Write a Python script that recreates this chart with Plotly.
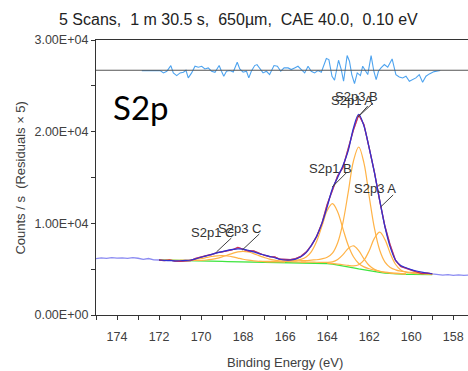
import plotly.graph_objects as go

# ---------------- data ----------------
be_grid = [172.0, 171.75, 171.5, 171.25, 171.0, 170.75, 170.5, 170.25, 170.0, 169.75,
           169.5, 169.25, 169.0, 168.75, 168.5, 168.25, 168.0, 167.75, 167.5, 167.25,
           167.0, 166.75, 166.5, 166.25, 166.0, 165.75, 165.5, 165.25, 165.0, 164.75,
           164.5, 164.25, 164.0, 163.75, 163.5, 163.25, 163.0, 162.75, 162.5, 162.25,
           162.0, 161.75, 161.5, 161.25, 161.0, 160.75, 160.5, 160.25, 160.0, 159.75,
           159.5, 159.25, 159.0]

background_k = [6.00, 5.98, 5.96, 5.94, 5.92, 5.91, 5.90, 5.89, 5.88, 5.87,
                5.86, 5.85, 5.84, 5.83, 5.82, 5.81, 5.80, 5.79, 5.79, 5.78,
                5.78, 5.77, 5.77, 5.76, 5.76, 5.75, 5.75, 5.74, 5.73, 5.72,
                5.70, 5.67, 5.62, 5.55, 5.47, 5.38, 5.27, 5.15, 5.03, 4.92,
                4.82, 4.73, 4.64, 4.57, 4.52, 4.48, 4.46, 4.44, 4.43, 4.42,
                4.41, 4.40, 4.40]

envelope_k = [6.00, 5.95, 5.93, 5.91, 5.92, 5.95, 6.00, 6.12, 6.30, 6.45,
              6.62, 6.78, 6.92, 7.05, 7.15, 7.22, 7.18, 7.05, 6.88, 6.70,
              6.55, 6.40, 6.25, 6.08, 6.00, 6.00, 6.10, 6.35, 6.80, 7.60,
              8.60, 10.0, 11.8, 13.8, 15.0, 16.3, 17.9, 20.4, 21.9, 20.6,
              18.2, 15.5, 12.5, 9.6, 7.4, 6.0, 5.4, 5.15, 4.95, 4.80,
              4.68, 4.58, 4.50]

raw_be = [175.0, 174.75, 174.5, 174.25, 174.0, 173.75, 173.5, 173.25, 173.0, 172.75,
          172.5, 172.25, 172.0, 171.75, 171.5, 171.25, 171.0, 170.75, 170.5, 170.25,
          170.0, 169.75, 169.5, 169.25, 169.0, 168.75, 168.5, 168.25, 168.0, 167.75,
          167.5, 167.25, 167.0, 166.75, 166.5, 166.25, 166.0, 165.75, 165.5, 165.25,
          165.0, 164.75, 164.5, 164.25, 164.0, 163.75, 163.5, 163.25, 163.0, 162.75,
          162.5, 162.25, 162.0, 161.75, 161.5, 161.25, 161.0, 160.75, 160.5, 160.25,
          160.0, 159.75, 159.5, 159.25, 159.0, 158.75, 158.5, 158.25, 158.0, 157.75,
          157.5, 157.25]
raw_counts = [6150, 6230, 6180, 6260, 6200, 6240, 6170, 6250, 6190, 6060,
              6160, 6010, 6000, 5930, 6020, 5870, 5850, 5900, 5930, 6170,
              6350, 6490, 6600, 6800, 6880, 7020, 7120, 7380, 7160, 6980,
              6980, 6730, 6520, 6370, 6330, 6080, 6040, 6030, 6150, 6400,
              6870, 7600, 8580, 10000, 12050, 13650, 15200, 16100, 18150, 20200,
              21850, 20750, 18200, 15550, 12450, 9650, 7600, 5950, 5300, 5080,
              4850, 4700, 4520, 4560, 4480, 4420, 4350, 4400, 4330, 4380,
              4320, 4360]

# components: start BE on the grid + net height (k counts/s) above background
s2p3_b_start = 166.0
s2p3_b_k = [0.12, 0.14, 0.16, 0.19, 0.21, 0.27, 0.33, 0.45, 0.67, 1.2, 2.42, 4.71, 8.1,
            11.65, 13.3, 11.65, 8.1, 4.71, 2.42, 1.2, 0.67, 0.45, 0.33, 0.27, 0.21,
            0.19, 0.16, 0.14, 0.12]
s2p1_b_start = 167.25
s2p1_b_k = [0.06, 0.07, 0.08, 0.09, 0.11, 0.13, 0.17, 0.22, 0.33, 0.59, 1.2, 2.34, 4.02,
            5.78, 6.6, 5.78, 4.02, 2.34, 1.2, 0.59, 0.33, 0.22, 0.17, 0.13, 0.11, 0.09,
            0.08, 0.07, 0.06]
s2p3_a_start = 164.0
s2p3_a_k = [0.05, 0.06, 0.08, 0.10, 0.14, 0.22, 0.46, 1.06, 2.2, 3.65, 4.4, 3.65, 2.2,
            1.06, 0.46, 0.22, 0.14, 0.10, 0.08, 0.06, 0.05]
s2p1_a_start = 165.25
s2p1_a_k = [0.03, 0.034, 0.043, 0.055, 0.07, 0.12, 0.25, 0.58, 1.2, 1.99, 2.4, 1.99,
            1.2, 0.58, 0.25, 0.12, 0.07, 0.055, 0.043, 0.034, 0.03]
s2p3_c_start = 171.0
s2p3_c_k = [0.029, 0.035, 0.044, 0.06, 0.084, 0.13, 0.21, 0.33, 0.50, 0.70, 0.91, 1.08,
            1.15, 1.08, 0.91, 0.70, 0.50, 0.33, 0.21, 0.13, 0.084, 0.06, 0.044, 0.035,
            0.029]
s2p1_c_start = 172.0
s2p1_c_k = [0.016, 0.02, 0.025, 0.034, 0.047, 0.074, 0.12, 0.19, 0.28, 0.40, 0.52, 0.61,
            0.65, 0.61, 0.52, 0.40, 0.28, 0.19, 0.12, 0.074, 0.047, 0.034, 0.025, 0.02,
            0.016]

resid_be = [172.82, 171.95, 171.79, 171.63, 171.44, 171.32, 171.16, 171.00, 170.84, 170.72,
            170.61, 170.45, 170.29, 170.13, 169.97, 169.82, 169.66, 169.50, 169.34, 169.14,
            169.03, 168.92, 168.79, 168.63, 168.47, 168.28, 168.16, 168.00, 167.84, 167.73,
            167.61, 167.45, 167.34, 167.21, 167.05, 166.89, 166.74, 166.53, 166.37, 166.21,
            166.05, 165.86, 165.71, 165.55, 165.39, 165.23, 165.07, 164.91, 164.76, 164.60,
            164.44, 164.28, 164.04, 163.92, 163.77, 163.65, 163.46, 163.33, 163.22, 163.05,
            162.94, 162.83, 162.70, 162.57, 162.42, 162.31, 162.18, 162.07, 161.91, 161.78,
            161.67, 161.56, 161.44, 161.28, 161.12, 160.91, 160.73, 160.57, 160.41, 160.25,
            160.09, 159.94, 159.78, 159.62, 159.46, 159.30, 159.14, 158.91, 158.62]
resid_x5 = [-36, -36, -291, -109, 510, -291, -582, -291, -218, 0,
            -837, -291, 437, 328, 437, 146, 255, -109, -218, 510,
            -109, -655, -109, -36, -182, 874, 146, -218, -109, -837,
            -109, 510, 619, 255, -291, -109, -473, 510, 437, -109,
            255, 255, 73, 255, 437, 73, -291, 437, -109, -291,
            -36, -218, 1274, 1165, -655, -1092, 1092, 73, -1201, 1602,
            983, -473, -1456, -291, -582, 437, 0, -473, 1602, -109,
            -1019, -109, 255, 619, 328, 1238, -473, -728, -837, -655,
            -1201, -1019, -837, -473, -1310, -655, -400, -146, -36]
resid_offset = 26700

# peak labels: text, text position (BE, counts), leader line start and end
label_text = ["S2p1 A", "S2p3 B", "S2p1 B", "S2p3 A", "S2p1 C", "S2p3 C"]
label_be = [162.83, 162.59, 163.82, 161.72, 169.46, 168.18]
label_cts = [23350, 23800, 16000, 13750, 8950, 9400]
line_be0 = [162.07, 161.83, 163.05, 160.86, 168.56, 167.23]
line_cts0 = [22800, 23100, 15600, 13100, 8400, 8840]
line_be1 = [162.54, 162.54, 163.76, 161.45, 169.27, 168.04]
line_cts1 = [21600, 21600, 13960, 11800, 6870, 7090]

y_tickvals = [0, 10000, 20000, 30000]
y_ticktext = ["0.00E+00", "1.00E+04", "2.00E+04", "3.00E+04"]
x_tickvals = [174, 172, 170, 168, 166, 164, 162, 160, 158]

title_text = "5 Scans,  1 m 30.5 s,  650µm,  CAE 40.0,  0.10 eV"
region_text = "S2p"
x_title = "Binding Energy (eV)"
y_title = "Counts / s  (Residuals × 5)"

# ---------------- figure ----------------
REG = "Liberation Sans, Arial, sans-serif"

bg_counts = [v * 1000 for v in background_k]
fig = go.Figure()

# raw spectrum (full range)
fig.add_trace(go.Scatter(x=raw_be, y=raw_counts, mode="lines",
                         line=dict(color="#8c8cf2", width=1.3), hoverinfo="skip"))

# background
fig.add_trace(go.Scatter(x=be_grid, y=bg_counts, mode="lines",
                         line=dict(color="#3fe53f", width=1.3), hoverinfo="skip"))

# components
for start, vals in [(s2p3_b_start, s2p3_b_k), (s2p1_b_start, s2p1_b_k),
                    (s2p3_a_start, s2p3_a_k), (s2p1_a_start, s2p1_a_k),
                    (s2p3_c_start, s2p3_c_k), (s2p1_c_start, s2p1_c_k)]:
    i0 = be_grid.index(start)
    xs = be_grid[i0:i0 + len(vals)]
    ys = [bg_counts[i0 + j] + 1000 * v for j, v in enumerate(vals)]
    fig.add_trace(go.Scatter(x=xs, y=ys, mode="lines", line_shape="spline",
                             line=dict(color="#ffb347", width=1.2), hoverinfo="skip"))

# raw data inside the fitted region (red)
fit_x = [b for b in raw_be if 159.0 <= b <= 172.0]
fit_y = [c for b, c in zip(raw_be, raw_counts) if 159.0 <= b <= 172.0]
fig.add_trace(go.Scatter(x=fit_x, y=fit_y, mode="lines",
                         line=dict(color="#d8304a", width=1.3), hoverinfo="skip"))

# envelope
fig.add_trace(go.Scatter(x=be_grid, y=[v * 1000 for v in envelope_k], mode="lines",
                         line_shape="spline",
                         line=dict(color="#3030d0", width=1.2), hoverinfo="skip"))

# residuals (x5)
fig.add_trace(go.Scatter(x=resid_be, y=[resid_offset + r for r in resid_x5], mode="lines",
                         line=dict(color="#4da3ef", width=1.1), hoverinfo="skip"))

shapes = [dict(type="line", xref="paper", x0=0, x1=1, yref="y",
               y0=resid_offset, y1=resid_offset, line=dict(color="#555555", width=1.2))]
for i in range(len(label_text)):
    shapes.append(dict(type="line", xref="x", yref="y", x0=line_be0[i], y0=line_cts0[i],
                       x1=line_be1[i], y1=line_cts1[i], line=dict(color="#404040", width=1)))

annotations = []
for i in range(len(label_text)):
    annotations.append(dict(x=label_be[i], y=label_cts[i], xref="x", yref="y",
                            text=label_text[i], showarrow=False,
                            font=dict(family=REG, size=13, color="#333333")))
annotations.append(dict(x=0.384, y=1.076, xref="paper", yref="paper", text=title_text,
                        showarrow=False, xanchor="center", yanchor="middle",
                        font=dict(family=REG, size=16, color="#222222")))
annotations.append(dict(x=0.121, y=0.758, xref="paper", yref="paper", text=region_text,
                        showarrow=False, xanchor="center", yanchor="middle",
                        font=dict(family="Lato, Carlito, Calibri, sans-serif", size=33,
                                  color="#000000")))
annotations.append(dict(x=0.507, y=-0.171, xref="paper", yref="paper", text=x_title,
                        showarrow=False, xanchor="center", yanchor="middle",
                        font=dict(family=REG, size=13, color="#404040")))
annotations.append(dict(x=-0.204, y=0.50, xref="paper", yref="paper", text=y_title,
                        showarrow=False, xanchor="center", yanchor="middle", textangle=-90,
                        font=dict(family=REG, size=13, color="#404040")))

fig.update_layout(
    width=468, height=371,
    margin=dict(l=96, r=0, t=40, b=56, autoexpand=False),
    paper_bgcolor="white", plot_bgcolor="white",
    showlegend=False,
    shapes=shapes,
    annotations=annotations,
    xaxis=dict(range=[175, 157.3], tickvals=x_tickvals, ticks="outside", ticklen=4,
               tickcolor="#333333", showline=True, linecolor="#333333", linewidth=1.3,
               mirror=True, showgrid=False, zeroline=False, automargin=False,
               ticklabelstandoff=6,
               minor=dict(dtick=1, ticks="outside", ticklen=4, tickcolor="#333333"),
               tickfont=dict(family=REG, size=12.5, color="#404040")),
    yaxis=dict(range=[0, 30000], tickvals=y_tickvals, ticktext=y_ticktext,
               ticks="outside", ticklen=4, tickcolor="#333333", showline=True,
               linecolor="#333333", linewidth=1.3, showgrid=False, zeroline=False,
               automargin=False,
               minor=dict(dtick=5000, ticks="outside", ticklen=4, tickcolor="#333333"),
               tickfont=dict(family=REG, size=12.5, color="#404040")),
)

fig.write_html("out.html", config={"displayModeBar": False},
               post_script="document.body.style.margin='0';document.body.style.overflow='hidden';")
